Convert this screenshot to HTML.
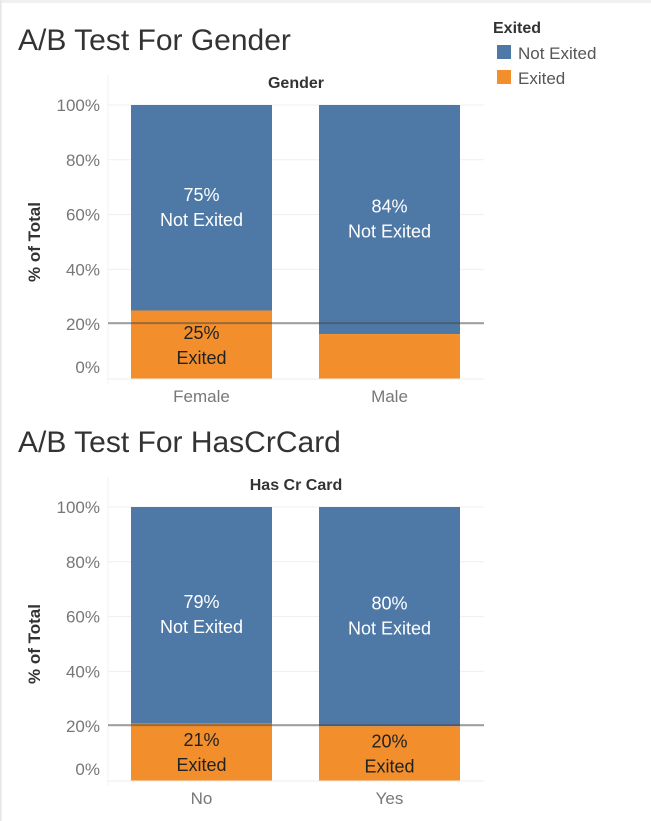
<!DOCTYPE html>
<html><head><meta charset="utf-8"><style>
html,body{margin:0;padding:0;background:#fff;}
svg{display:block;font-family:"Liberation Sans",sans-serif;}
</style></head><body>
<svg id="s" width="651" height="821">
<rect x="0" y="0" width="651" height="3" fill="#f0f0f0"/>
<rect x="0" y="0" width="1.5" height="821" fill="#e6e6e6"/>
<g>
<text x="493" y="33" font-size="16" font-weight="bold" fill="#333">Exited</text>
<rect x="497" y="45" width="14" height="14" fill="#4e79a7"/>
<text x="518" y="59" font-size="17" fill="#555">Not Exited</text>
<rect x="497" y="70" width="14" height="14" fill="#f28e2b"/>
<text x="518" y="84" font-size="17" fill="#555">Exited</text>
</g>
</svg>
<script>
const ticks=[0,20,40,60,80,100];
const tickLabels=["0%","20%","40%","60%","80%","100%"];
const genderCats=["Female","Male"];
const genderExited=[25,16.4];
const genderNotExited=[75,83.6];
const genderRef=20.4;
const cardCats=["No","Yes"];
const cardExited=[21,20];
const cardNotExited=[79,80];
const cardRef=20.4;

const NS="http://www.w3.org/2000/svg";
const svg=document.getElementById('s');
function mk(t,a,p){const e=document.createElementNS(NS,t);for(const k in a)e.setAttribute(k,a[k]);(p||svg).appendChild(e);return e;}

function chart(opt){
  const g=mk('g',{});
  
  
  const top=opt.top,bot=opt.bot,left=108,right=484;
  const y=v=>bot-(v/100)*(bot-top);
  const bandW=(right-left)/opt.cats.length;
  const bx=i=>left+bandW*i+23;
  const bw=141;
  const t=mk('text',{x:18,y:opt.titleY,'font-size':30,fill:'#333'},g);t.textContent=opt.title;
  
  
  const h=mk('text',{x:296,y:opt.headerY,'font-size':16,'font-weight':'bold',fill:'#333','text-anchor':'middle'},g);h.textContent=opt.header;
  
  
  const yt=mk('text',{transform:`translate(40,${(top+bot)/2}) rotate(-90)`,'font-size':17,'font-weight':'bold',fill:'#333','text-anchor':'middle'},g);yt.textContent="% of Total";
  
  
  mk('line',{x1:left,y1:top-30,x2:left,y2:bot+5,stroke:'#f2f2f2'},g);
  ticks.forEach((v,i)=>{
    const l=mk('line',{x1:left,x2:right,y1:y(v),y2:y(v),stroke:'#efefef'},g);
    
    
    const tl=mk('text',{x:100,y:v===0?y(v)-6:y(v)+6,'font-size':17,fill:'#777','text-anchor':'end'},g);tl.textContent=tickLabels[i];
    
    
  });
  opt.cats.forEach((c,i)=>{
    const ex=opt.exited[i],ne=opt.notExited[i];
    const r1=mk('rect',{x:bx(i),y:y(100),width:bw,height:y(ex)-y(100),fill:'#4e79a7'},g);
    
    
    const r2=mk('rect',{x:bx(i),y:y(ex),width:bw,height:y(0)-y(ex),fill:'#f28e2b'},g);
    
    
    const cx=bx(i)+bw/2;
    const m1=(y(100)+y(ex))/2;
    const a=mk('text',{x:cx,y:m1-7,'font-size':18,fill:'#fff','text-anchor':'middle'},g);a.textContent=Math.round(ne)+"%";
    
    
    const b=mk('text',{x:cx,y:m1+18,'font-size':18,fill:'#fff','text-anchor':'middle'},g);b.textContent="Not Exited";
    
    
    if(ex>=19){
      const m2=(y(ex)+y(0))/2;
      const c1=mk('text',{x:cx,y:m2-6,'font-size':18,fill:'#222','text-anchor':'middle'},g);c1.textContent=Math.round(ex)+"%";
      
      
      const c2=mk('text',{x:cx,y:m2+19,'font-size':18,fill:'#222','text-anchor':'middle'},g);c2.textContent="Exited";
      
      
    }
    const xl=mk('text',{x:cx,y:bot+23,'font-size':17,fill:'#777','text-anchor':'middle'},g);xl.textContent=c;
    
    
  });
  mk('line',{x1:left,x2:right,y1:bot,y2:bot,stroke:'#ececec'},g);
  const rl=mk('line',{x1:left,x2:right,y1:y(opt.ref),y2:y(opt.ref),stroke:'#444','stroke-opacity':0.5,'stroke-width':2},g);
  
  
}
chart({name:'gender-chart',title:'A/B Test For Gender',titleY:50,header:'Gender',headerY:88,top:105,bot:379,cats:genderCats,exited:genderExited,notExited:genderNotExited,ref:genderRef});
chart({name:'hascrcard-chart',title:'A/B Test For HasCrCard',titleY:452,header:'Has Cr Card',headerY:490,top:507,bot:781,cats:cardCats,exited:cardExited,notExited:cardNotExited,ref:cardRef});
</script>
</body></html>
